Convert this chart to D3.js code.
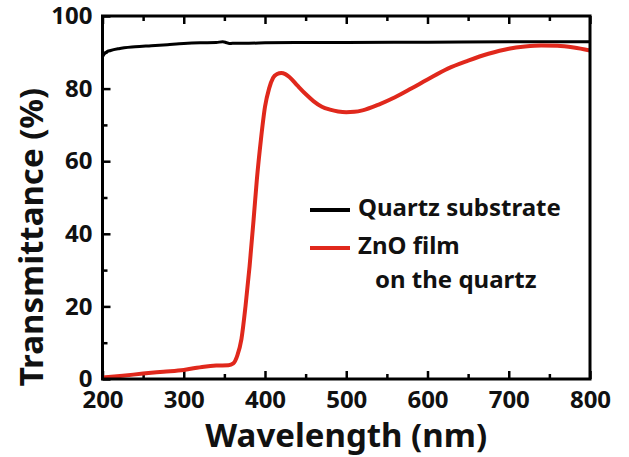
<!DOCTYPE html>
<html lang="en">
  <head>
    <meta charset="UTF-8">
    <title>Transmittance</title>
    <style>
      body { margin: 0; background: #fff; }
      text { font-family: "Noto Sans", sans-serif; font-weight: 700; fill: #111; }
      .axis path { display: none; }
      .axis line { stroke: #000; stroke-width: 2.5; }
    </style>
  </head>
  <body>
    <svg id="chart"></svg>

    <script src="https://cdn.jsdelivr.net/npm/d3@7"></script>

    <script>
      // Quartz substrate (black)
      var quartzWl = [200, 202, 205, 210, 220, 240, 260, 280, 300, 320, 340, 348, 352, 356, 360, 380, 400, 450, 500, 600, 700, 800];
      var quartzT  = [88.8, 89.5, 90.1, 90.5, 91.0, 91.5, 91.8, 92.1, 92.4, 92.6, 92.7, 92.9, 92.7, 92.4, 92.5, 92.5, 92.6, 92.7, 92.7, 92.8, 92.9, 92.9];

      // ZnO film on the quartz (red)
      var znoWl = [200, 225, 250, 275, 300, 325, 340, 355, 361, 366, 371, 376, 381, 386, 390, 395, 400, 405, 410, 415, 420, 425, 430, 440, 450, 460, 470, 480, 490, 500, 510, 520, 540, 560, 580, 600, 625, 650, 675, 700, 720, 740, 760, 780, 800];
      var znoT  = [0.4, 0.9, 1.5, 2.0, 2.5, 3.4, 3.7, 3.8, 4.3, 6.5, 11, 20, 31, 44, 55, 66, 75, 80, 83, 84, 84.3, 84, 83.2, 80.8, 78.5, 76.5, 75, 74.2, 73.7, 73.5, 73.6, 74, 75.6, 77.6, 80, 82.5, 85.5, 87.7, 89.6, 91, 91.6, 91.9, 91.8, 91.3, 90.5];

      var xMajor = [200, 300, 400, 500, 600, 700, 800];
      var xMinor = [250, 350, 450, 550, 650, 750];
      var yMajor = [0, 20, 40, 60, 80, 100];
      var yMinor = [10, 30, 50, 70, 90];

      var legendLabels = ["Quartz substrate", "ZnO film", "on the quartz"];

      var W = 629, H = 457;
      var margin = { top: 16, right: 39, bottom: 78, left: 102.5 };
      var w = W - margin.left - margin.right;
      var h = H - margin.top - margin.bottom;

      var svg = d3.select("#chart").attr("width", W).attr("height", H);
      var g = svg.append("g").attr("transform", "translate(" + margin.left + "," + margin.top + ")");

      var x = d3.scaleLinear().domain([200, 800]).range([0, w]);
      var y = d3.scaleLinear().domain([0, 100]).range([h, 0]);

      // bottom axis, inward ticks
      g.append("g").attr("class", "axis").attr("transform", "translate(0," + h + ")")
        .call(d3.axisBottom(x).tickValues(xMajor).tickSize(-8).tickPadding(12).tickFormat(d3.format("d")))
        .call(function(a) { a.selectAll("text").style("font-size", "24px"); });
      g.append("g").attr("class", "axis").attr("transform", "translate(0," + h + ")")
        .call(d3.axisBottom(x).tickValues(xMinor).tickSize(-5).tickFormat(""));

      // top axis, ticks only
      g.append("g").attr("class", "axis")
        .call(d3.axisTop(x).tickValues(xMajor).tickSize(-8).tickFormat(""));
      g.append("g").attr("class", "axis")
        .call(d3.axisTop(x).tickValues(xMinor).tickSize(-5).tickFormat(""));

      // left axis
      g.append("g").attr("class", "axis")
        .call(d3.axisLeft(y).tickValues(yMajor).tickSize(-8).tickPadding(10))
        .call(function(a) { a.selectAll("text").style("font-size", "24px"); });
      g.append("g").attr("class", "axis")
        .call(d3.axisLeft(y).tickValues(yMinor).tickSize(-5).tickFormat(""));

      var line = d3.line()
        .x(function(d) { return x(d[0]); })
        .y(function(d) { return y(d[1]); })
        .curve(d3.curveMonotoneX);

      g.append("path")
        .datum(d3.zip(quartzWl, quartzT))
        .attr("fill", "none").attr("stroke", "#000").attr("stroke-width", 3)
        .attr("d", line);

      g.append("path")
        .datum(d3.zip(znoWl, znoT))
        .attr("fill", "none").attr("stroke", "#e0281c").attr("stroke-width", 4)
        .attr("stroke-linejoin", "round")
        .attr("d", line);

      // frame
      g.append("rect").attr("width", w).attr("height", h)
        .attr("fill", "none").attr("stroke", "#000").attr("stroke-width", 3);

      // legend
      var leg = svg.append("g");
      leg.append("line").attr("x1", 310).attr("x2", 350).attr("y1", 210).attr("y2", 210)
        .attr("stroke", "#000").attr("stroke-width", 4);
      leg.append("line").attr("x1", 310).attr("x2", 350).attr("y1", 248).attr("y2", 248)
        .attr("stroke", "#e0281c").attr("stroke-width", 4);
      leg.append("text").attr("x", 358).attr("y", 216).style("font-size", "24px").text(legendLabels[0]);
      leg.append("text").attr("x", 358).attr("y", 254).style("font-size", "24px").text(legendLabels[1]);
      leg.append("text").attr("x", 375).attr("y", 288).style("font-size", "24px").text(legendLabels[2]);

      // axis titles
      svg.append("text")
        .attr("x", margin.left + w / 2).attr("y", 447)
        .attr("text-anchor", "middle").style("font-size", "33px")
        .text("Wavelength (nm)");

      svg.append("text")
        .attr("transform", "translate(43,237) rotate(-90)")
        .attr("text-anchor", "middle").style("font-size", "33px")
        .text("Transmittance (%)");
    </script>
  </body>
</html>
